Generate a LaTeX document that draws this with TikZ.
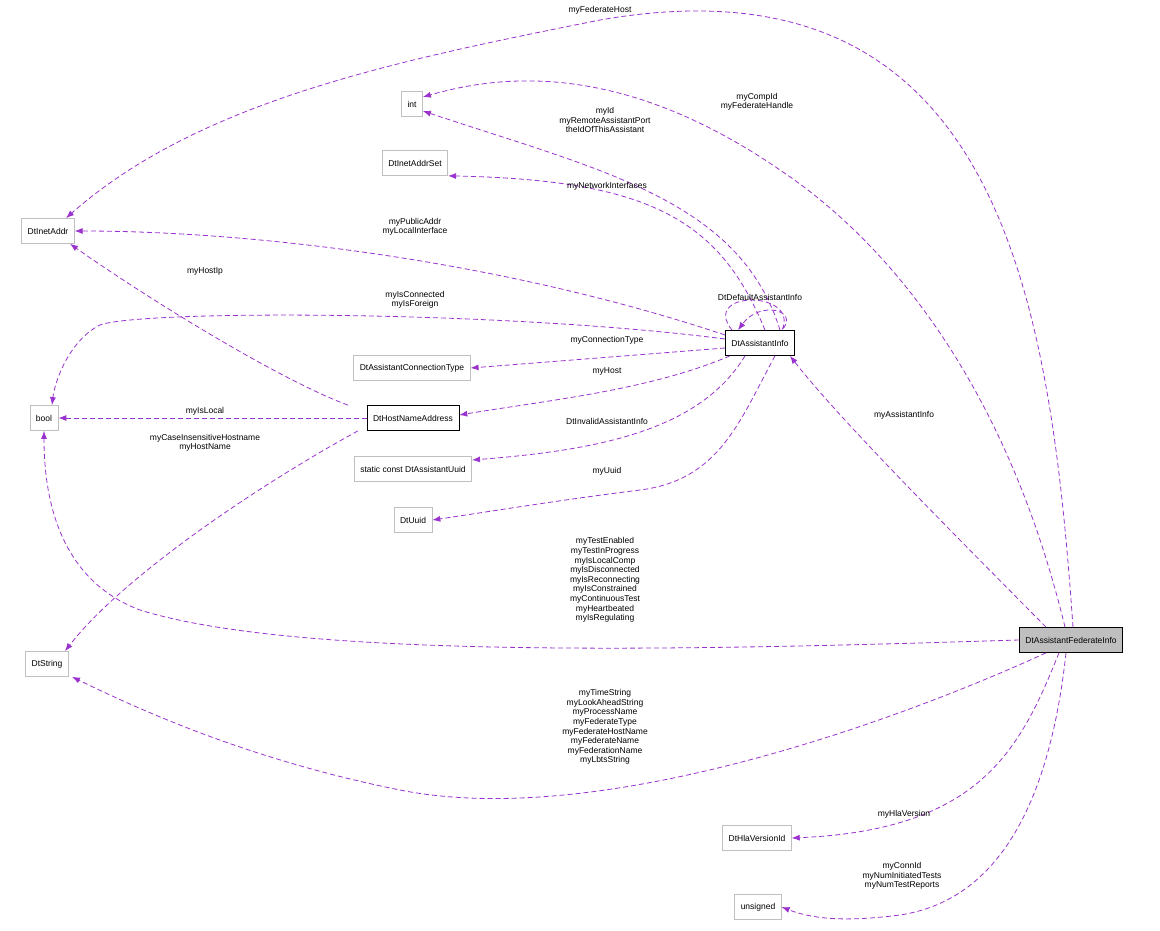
\documentclass[tikz,border=0pt]{standalone}
\usepackage{fontspec}
\setmainfont{Liberation Sans}
\usetikzlibrary{arrows.meta,calc}
\definecolor{edgecol}{HTML}{9A32CD}
\definecolor{boxgray}{HTML}{BFBFBF}
\tikzset{every picture/.style={line width=0.75pt}}
\tikzset{
  cls/.style={draw=boxgray,line width=0.7pt,minimum height=25,inner xsep=6,font=\fontsize{8.5}{10}\selectfont},
  main/.style={cls,draw=black},
  lbl/.style={align=center,inner sep=0,font=\fontsize{8.5}{9.6}\selectfont},
  use/.style={draw=edgecol,dash pattern=on 5pt off 3pt,line width=0.8pt,-{Latex[length=8,width=6]}}
}
\begin{document}
\begin{tikzpicture}[x=1pt,y=1pt,yscale=-1]
\useasboundingbox (0,0) rectangle (1160,931);

% classes
\node[cls] (int) at (412,104) {int};
\node[cls] (addrset) at (415,163) {DtInetAddrSet};
\node[cls] (inetaddr) at (48,231) {DtInetAddr};
\node[cls] (bool) at (44,418) {bool};
\node[cls] (conntype) at (412,368) {DtAssistantConnectionType};
\node[main] (hostname) at (413,418) {DtHostNameAddress};
\node[cls] (auuid) at (413,469) {static const DtAssistantUuid};
\node[cls] (uuid) at (413,520) {DtUuid};
\node[cls] (string) at (47,664) {DtString};
\node[cls] (hla) at (757,838) {DtHlaVersionId};
\node[cls] (unsig) at (758,907) {unsigned};
\node[main] (ainfo) at (760,343) {DtAssistantInfo};
\node[main,fill=boxgray] (finfo) at (1071,640) {DtAssistantFederateInfo};

% edges from DtAssistantFederateInfo
\draw[use] ($(finfo.north)+(2,0)$) .. controls (1050,300) and (1000,-50) .. (600,20) .. controls (400,60) and (200,100) .. ($(inetaddr.north)+(18,0)$);
\draw[use] ($(finfo.north)+(-6,0)$) .. controls (1010,400) and (900,250) .. (780,170) .. controls (620,60) and (500,75) .. ($(int.east)+(0,-7)$);
\draw[use] ($(finfo.north)+(-25,0)$) .. controls (950,530) and (840,420) .. ($(ainfo.south)+(30,0)$);
\draw[use] (finfo.west) .. controls (700,650) and (300,660) .. (140,610) .. controls (60,580) and (44,500) .. (bool.south);
\draw[use] ($(finfo.south)+(-25,0)$) .. controls (900,720) and (600,830) .. (400,790) .. controls (250,760) and (140,710) .. ($(string.south)+(25,0)$);
\draw[use] ($(finfo.south)+(-12,0)$) .. controls (1020,750) and (980,830) .. (hla.east);
\draw[use] ($(finfo.south)+(-5,0)$) .. controls (1050,800) and (1000,900) .. (900,915) .. controls (860,920) and (820,922) .. (unsig.east);

% edges from DtAssistantInfo
\draw[use] ($(ainfo.north)+(20,0)$) .. controls (740,200) and (600,170) .. ($(int.east)+(0,7)$);
\draw[use] ($(ainfo.north)+(5,0)$) .. controls (720,220) and (650,180) .. (addrset.south east);
\draw[use] ($(ainfo.west)+(0,-8)$) .. controls (500,260) and (250,231) .. (inetaddr.east);
\draw[use] ($(ainfo.west)+(0,-4)$) .. controls (500,310) and (140,310) .. (100,325) .. controls (70,340) and (55,380) .. ($(bool.north)+(8,0)$);
\draw[use] ($(ainfo.north)+(-28,0)$) .. controls (700,290) and (800,290) .. ($(ainfo.north)+(22,0)$) .. controls (800,310) and (760,300) .. ($(ainfo.north)+(-22,0)$);
\draw[use] ($(ainfo.west)+(0,5)$) -- (conntype.east);
\draw[use] ($(ainfo.south)+(-30,0)$) .. controls (650,390) and (550,400) .. ($(hostname.east)+(0,-3)$);
\draw[use] ($(ainfo.south)+(-15,0)$) .. controls (700,430) and (600,450) .. ($(auuid.east)+(0,-9)$);
\draw[use] ($(ainfo.south)+(15,0)$) .. controls (740,420) and (720,480) .. (640,490) .. controls (560,500) and (500,510) .. (uuid.east);

% edges from DtHostNameAddress
\draw[use] ($(hostname.north)+(-65,0)$) .. controls (280,380) and (150,300) .. ($(inetaddr.south)+(22,0)$);
\draw[use] (hostname.west) -- (bool.east);
\draw[use] ($(hostname.south)+(-55,0)$) .. controls (250,490) and (120,580) .. ($(string.north)+(18,0)$);

% labels
\node[lbl] (l1) at (600,10) {myFederateHost};
\node[lbl] (l2) at (757,102) {myCompId\\myFederateHandle};
\node[lbl] (l3) at (605,120) {myId\\myRemoteAssistantPort\\theIdOfThisAssistant};
\node[lbl] (l4) at (607,186) {myNetworkInterfaces};
\node[lbl] (l5) at (415,227) {myPublicAddr\\myLocalInterface};
\node[lbl] (l6) at (415,300) {myIsConnected\\myIsForeign};
\node[lbl] (l7) at (760,297) {DtDefaultAssistantInfo};
\node[lbl] (l8) at (607,340) {myConnectionType};
\node[lbl] (l9) at (607,371) {myHost};
\node[lbl] (l10) at (607,421) {DtInvalidAssistantInfo};
\node[lbl] (l11) at (607,471) {myUuid};
\node[lbl] (l12) at (205,271) {myHostIp};
\node[lbl] (l13) at (205,411) {myIsLocal};
\node[lbl] (l14) at (205,443) {myCaseInsensitiveHostname\\myHostName};
\node[lbl] (l15) at (904,415) {myAssistantInfo};
\node[lbl] (l16) at (605,580) {myTestEnabled\\myTestInProgress\\myIsLocalComp\\myIsDisconnected\\myIsReconnecting\\myIsConstrained\\myContinuousTest\\myHeartbeated\\myIsRegulating};
\node[lbl] (l17) at (605,727) {myTimeString\\myLookAheadString\\myProcessName\\myFederateType\\myFederateHostName\\myFederateName\\myFederationName\\myLbtsString};
\node[lbl] (l18) at (904,814) {myHlaVersion};
\node[lbl] (l19) at (902,876) {myConnId\\myNumInitiatedTests\\myNumTestReports};
\end{tikzpicture}
\end{document}
